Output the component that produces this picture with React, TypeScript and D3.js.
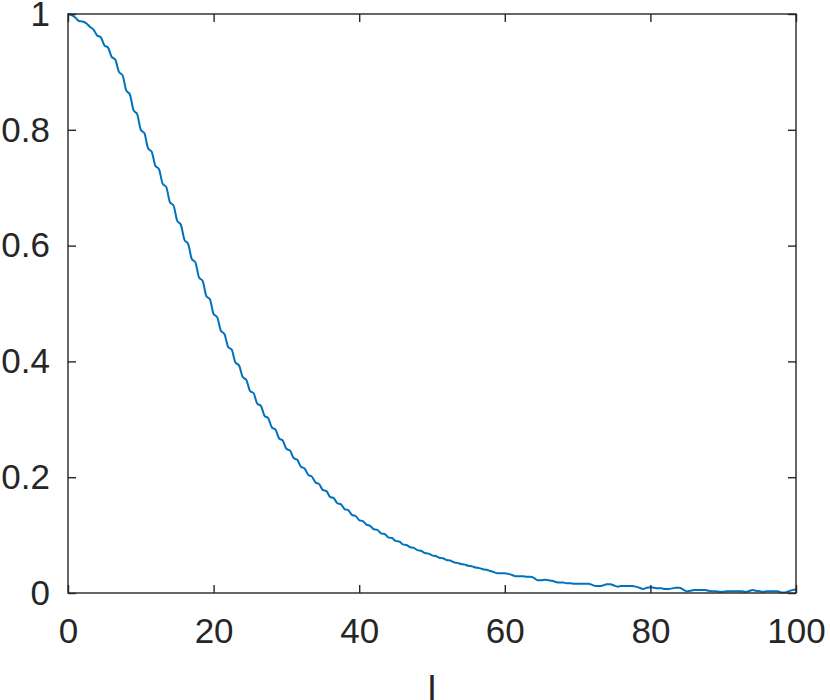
import * as d3 from "d3";
import React, { useEffect, useRef } from "react";

// sample spacing of the curve along l
const STEP = 0.5;

// values, l = 0, 0.5, 1, ... 55.5
const headValues = [
  1.0, 0.998, 0.994, 0.988, 0.987, 0.984, 0.978, 0.973, 0.963, 0.96,
  0.946, 0.942, 0.926, 0.921, 0.9, 0.894, 0.868, 0.861, 0.834, 0.827,
  0.8, 0.794, 0.768, 0.762, 0.738, 0.732, 0.707, 0.701, 0.675, 0.669,
  0.643, 0.636, 0.61, 0.603, 0.577, 0.571, 0.545, 0.539, 0.513, 0.507,
  0.482, 0.476, 0.453, 0.447, 0.425, 0.42, 0.398, 0.393, 0.373, 0.368,
  0.349, 0.345, 0.327, 0.323, 0.306, 0.302, 0.286, 0.282, 0.267, 0.263,
  0.249, 0.246, 0.233, 0.23, 0.218, 0.215, 0.204, 0.201, 0.191, 0.188,
  0.178, 0.176, 0.166, 0.164, 0.155, 0.153, 0.145, 0.143, 0.135, 0.133,
  0.126, 0.124, 0.118, 0.116, 0.11, 0.109, 0.103, 0.102, 0.096, 0.095,
  0.09, 0.089, 0.084, 0.083, 0.079, 0.078, 0.074, 0.073, 0.069, 0.068,
  0.065, 0.064, 0.061, 0.06, 0.057, 0.056, 0.053, 0.052, 0.05, 0.049,
  0.047, 0.046,
];

// noisy tail, l = 56 ... 100
const tailValues = [
  0.044, 0.043, 0.041, 0.04, 0.038, 0.036, 0.034, 0.034, 0.034, 0.033,
  0.031, 0.029, 0.029, 0.029, 0.028, 0.028, 0.026, 0.022, 0.022, 0.023,
  0.022, 0.021, 0.019, 0.018, 0.018, 0.017, 0.017, 0.016, 0.016, 0.016,
  0.016, 0.016, 0.014, 0.012, 0.012, 0.013, 0.015, 0.015, 0.013, 0.011,
  0.012, 0.012, 0.012, 0.012, 0.011, 0.009, 0.007, 0.009, 0.01, 0.009,
  0.008, 0.008, 0.007, 0.007, 0.008, 0.009, 0.009, 0.006, 0.003, 0.004,
  0.005, 0.005, 0.005, 0.005, 0.004, 0.003, 0.003, 0.002, 0.002, 0.003,
  0.003, 0.003, 0.003, 0.003, 0.002, 0.003, 0.005, 0.004, 0.003, 0.002,
  0.003, 0.003, 0.003, 0.003, 0.001, 0.001, 0.003, 0.005, 0.006,
];

const xTicks = [0, 20, 40, 60, 80, 100];
const yTicks = [0, 0.2, 0.4, 0.6, 0.8, 1];
const xLabel = "l";

const App = () => {
  const svgRef = useRef<SVGSVGElement>(null);

  useEffect(() => {
    const svg = d3.select(svgRef.current);
    const width = 830;
    const height = 700;
    const margin = { top: 14, right: 34, bottom: 107, left: 68 };
    const innerWidth = width - margin.left - margin.right;
    const innerHeight = height - margin.top - margin.bottom;
    const axisColor = "#262626";
    const font = "Helvetica, 'Liberation Sans', Arial, sans-serif";

    svg.selectAll("*").remove();

    const values = headValues.concat(tailValues);
    const data = values.map((v, i) => ({ l: i * STEP, v }));

    const xScale = d3.scaleLinear().domain([0, 100]).range([0, innerWidth]);
    const yScale = d3.scaleLinear().domain([0, 1]).range([innerHeight, 0]);

    const g = svg
      .append("g")
      .attr("transform", `translate(${margin.left},${margin.top})`);

    // curve
    const line = d3
      .line<{ l: number; v: number }>()
      .x((d) => xScale(d.l))
      .y((d) => yScale(d.v))
      .curve(d3.curveMonotoneX);

    g.append("path")
      .datum(data)
      .attr("fill", "none")
      .attr("stroke", "#0072BD")
      .attr("stroke-width", 2)
      .attr("stroke-linejoin", "round")
      .attr("d", line);

    // box
    g.append("rect")
      .attr("width", innerWidth)
      .attr("height", innerHeight)
      .attr("fill", "none")
      .attr("stroke", axisColor)
      .attr("stroke-width", 1.4);

    const tickLen = 8;

    // bottom axis
    const xAxis = g
      .append("g")
      .attr("transform", `translate(0,${innerHeight})`)
      .call(
        d3
          .axisBottom(xScale)
          .tickValues(xTicks)
          .tickSizeInner(-tickLen)
          .tickSizeOuter(0)
          .tickPadding(tickLen + 17)
          .tickFormat(d3.format("d"))
      );
    xAxis.select(".domain").remove();
    xAxis.selectAll("line").attr("stroke", axisColor).attr("stroke-width", 1.4);
    xAxis
      .selectAll("text")
      .attr("fill", axisColor)
      .style("font-family", font)
      .style("font-size", "35px");

    // top ticks
    const xTop = g
      .append("g")
      .call(
        d3
          .axisTop(xScale)
          .tickValues(xTicks)
          .tickSizeInner(-tickLen)
          .tickSizeOuter(0)
          .tickFormat(() => "")
      );
    xTop.select(".domain").remove();
    xTop.selectAll("line").attr("stroke", axisColor).attr("stroke-width", 1.4);

    // left axis
    const yAxis = g.append("g").call(
      d3
        .axisLeft(yScale)
        .tickValues(yTicks)
        .tickSizeInner(-tickLen)
        .tickSizeOuter(0)
        .tickPadding(tickLen + 10)
        .tickFormat((d) => (d === 0 || d === 1 ? d3.format("d")(d as number) : d3.format(".1f")(d as number)))
    );
    yAxis.select(".domain").remove();
    yAxis.selectAll("line").attr("stroke", axisColor).attr("stroke-width", 1.4);
    yAxis
      .selectAll("text")
      .attr("fill", axisColor)
      .style("font-family", font)
      .style("font-size", "35px");

    // right ticks
    const yRight = g
      .append("g")
      .attr("transform", `translate(${innerWidth},0)`)
      .call(
        d3
          .axisRight(yScale)
          .tickValues(yTicks)
          .tickSizeInner(-tickLen)
          .tickSizeOuter(0)
          .tickFormat(() => "")
      );
    yRight.select(".domain").remove();
    yRight.selectAll("line").attr("stroke", axisColor).attr("stroke-width", 1.4);

    // x label
    g.append("text")
      .attr("x", innerWidth / 2)
      .attr("y", innerHeight + 110)
      .attr("text-anchor", "middle")
      .attr("fill", axisColor)
      .style("font-family", font)
      .style("font-size", "38px")
      .text(xLabel);
  }, []);

  return (
    <svg
      ref={svgRef}
      width="830"
      height="700"
      style={{ position: "absolute", left: 0, top: 0, background: "#fff" }}
    ></svg>
  );
};

export default App;
